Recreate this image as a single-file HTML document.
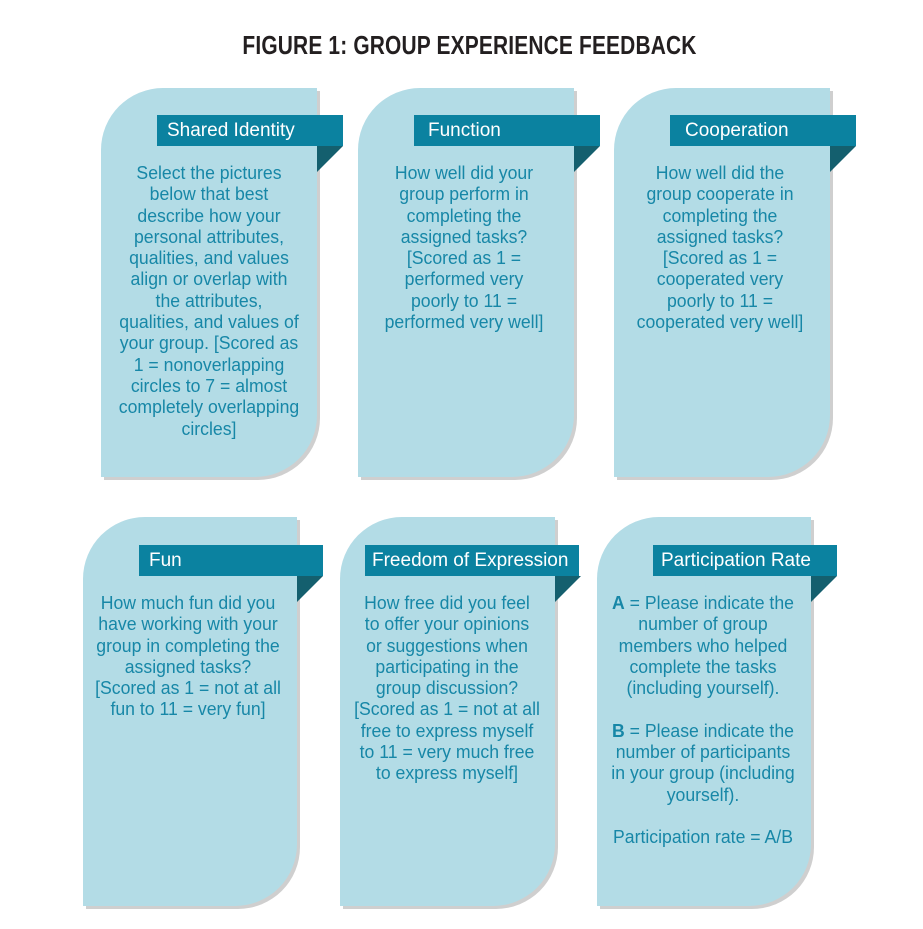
<!DOCTYPE html>
<html><head><meta charset="utf-8"><style>
body{margin:0;width:923px;height:929px;background:#fff;position:relative;overflow:hidden;font-family:"Liberation Sans",sans-serif}
.t{position:absolute;left:8px;width:923px;top:30px;text-align:center;font-weight:bold;font-size:26px;color:#231f20;transform:scaleX(0.805);transform-origin:50% 0;letter-spacing:0.2px}
.card{position:absolute;width:216px;height:389px;background:#b3dce6;border-radius:62px 0 62px 0;box-shadow:3px 3px 0 #cfcfcf}
.ban{position:absolute;height:31px;width:186px;background:#0b82a0;color:#fff;font-size:19px;line-height:31px;}
.ban span{display:inline-block;transform:scaleX(1.0);transform-origin:0 0;padding-left:10px;white-space:nowrap}
.fold{position:absolute;width:0;height:0;border-top:26px solid #145f6e;border-right:26px solid transparent}
.txt{position:absolute;width:260px;text-align:center;color:#1787a7;font-size:18px;line-height:21.3px;transform:scaleX(0.98);transform-origin:50% 0;white-space:nowrap}
</style></head><body>
<div class="t">FIGURE 1: GROUP EXPERIENCE FEEDBACK</div>

<div class="card" style="left:101px;top:88px"></div>
<div class="ban" style="left:157px;top:115px"><span>Shared Identity</span></div>
<div class="fold" style="left:317px;top:146px"></div>
<div class="txt" style="left:79px;top:163px">Select the pictures<br>below that best<br>describe how your<br>personal attributes,<br>qualities, and values<br>align or overlap with<br>the attributes,<br>qualities, and values of<br>your group. [Scored as<br>1 = nonoverlapping<br>circles to 7 = almost<br>completely overlapping<br>circles]</div>

<div class="card" style="left:358px;top:88px"></div>
<div class="ban" style="left:414px;top:115px"><span style="padding-left:14px">Function</span></div>
<div class="fold" style="left:574px;top:146px"></div>
<div class="txt" style="left:334px;top:163px">How well did your<br>group perform in<br>completing the<br>assigned tasks?<br>[Scored as 1 =<br>performed very<br>poorly to 11 =<br>performed very well]</div>

<div class="card" style="left:614px;top:88px"></div>
<div class="ban" style="left:670px;top:115px"><span style="padding-left:15px">Cooperation</span></div>
<div class="fold" style="left:830px;top:146px"></div>
<div class="txt" style="left:590px;top:163px">How well did the<br>group cooperate in<br>completing the<br>assigned tasks?<br>[Scored as 1 =<br>cooperated very<br>poorly to 11 =<br>cooperated very well]</div>

<div class="card" style="left:83px;top:517px;width:214px"></div>
<div class="ban" style="left:139px;top:545px;width:184px"><span>Fun</span></div>
<div class="fold" style="left:297px;top:576px"></div>
<div class="txt" style="left:58px;top:593px">How much fun did you<br>have working with your<br>group in completing the<br>assigned tasks?<br>[Scored as 1 = not at all<br>fun to 11 = very fun]</div>

<div class="card" style="left:340px;top:517px;width:215px"></div>
<div class="ban" style="left:365px;top:545px;width:214px"><span style="padding-left:7px">Freedom of Expression</span></div>
<div class="fold" style="left:555px;top:576px"></div>
<div class="txt" style="left:317px;top:593px">How free did you feel<br>to offer your opinions<br>or suggestions when<br>participating in the<br>group discussion?<br>[Scored as 1 = not at all<br>free to express myself<br>to 11 = very much free<br>to express myself]</div>

<div class="card" style="left:597px;top:517px;width:214px"></div>
<div class="ban" style="left:653px;top:545px;width:184px"><span style="padding-left:8px">Participation Rate</span></div>
<div class="fold" style="left:811px;top:576px"></div>
<div class="txt" style="left:573px;top:593px"><b>A</b> = Please indicate the<br>number of group<br>members who helped<br>complete the tasks<br>(including yourself).<br><br><b>B</b> = Please indicate the<br>number of participants<br>in your group (including<br>yourself).<br><br>Participation rate = A/B</div>
</body></html>
